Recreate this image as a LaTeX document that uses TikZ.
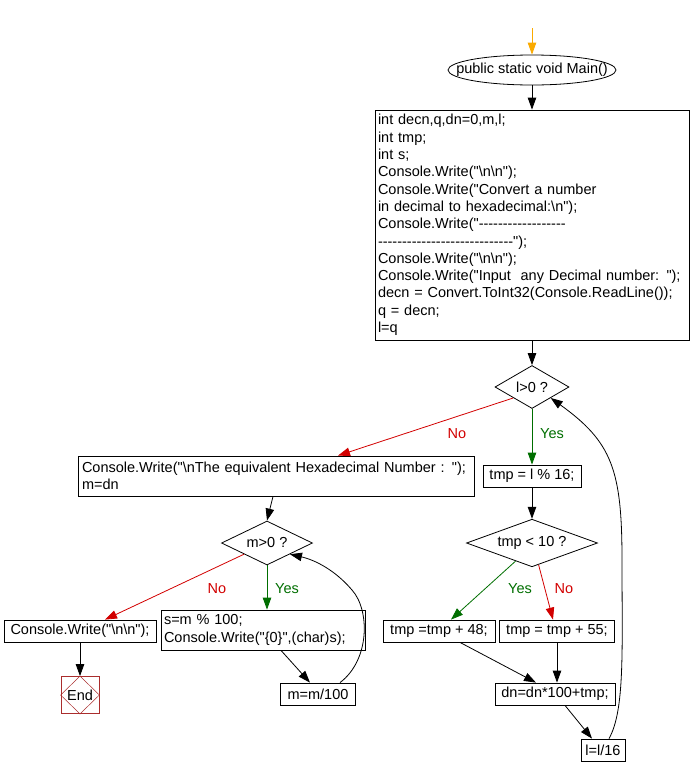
\documentclass[tikz,border=0pt]{standalone}
\usepackage{fontspec}
\setmainfont{Liberation Sans}[Ligatures=TeXOff]
\usepackage{tikz}
\usetikzlibrary{arrows.meta}
\usetikzlibrary{shapes.geometric}
\usetikzlibrary{positioning}
\usetikzlibrary{calc}

\definecolor{yesgreen}{RGB}{0,110,0}
\definecolor{nored}{RGB}{210,0,0}
\definecolor{startorange}{RGB}{250,170,0}
\definecolor{endred}{RGB}{170,45,45}

\begin{document}
\begin{tikzpicture}[x=1pt, y=-1pt, line width=0.8pt,
    every node/.style={font=\fontsize{14.5}{17.3}\selectfont},
    box/.style={draw, inner sep=3pt, minimum height=22pt},
    textbox/.style={draw, inner sep=3pt, align=left},
    decision/.style={draw, diamond, aspect=2, inner sep=0pt},
    arrow/.style={-{Triangle[length=12pt,width=8.5pt]}},
    yesline/.style={arrow, yesgreen},
    noline/.style={arrow, nored},
    yeslabel/.style={text=yesgreen},
    nolabel/.style={text=nored}]
      \useasboundingbox (0, 0) rectangle (692, 777);

      % start
      \coordinate (start) at (532, 28);
      \node [minimum height=30pt, inner sep=0pt] (main) at (532, 70) {public static void Main()};
      \draw (main.center) ellipse [x radius=84, y radius=15];

      \node [textbox, text width=308pt, minimum height=230pt] (init) at (532, 225)
        {int decn,q,dn=0,m,l;\\
         int tmp;\\
         int s;\\
         Console.Write("\textbackslash n\textbackslash n");\\
         Console.Write("Convert a number\\
         in decimal to hexadecimal:\textbackslash n");\\
         Console.Write("------------------\\
         ----------------------------");\\
         Console.Write("\textbackslash n\textbackslash n");\\
         Console.Write("Input\ \ any Decimal number: ");\\
         decn = Convert.ToInt32(Console.ReadLine());\\
         q = decn;\\
         l=q};

      % outer loop
      \node [decision, minimum width=74pt, minimum height=43pt] (lcheck) at (532, 387) {l>0 ?};
      \node [box, minimum width=98pt] (tmpmod) at (532, 476) {tmp = l \% 16;};
      \node [decision, minimum width=131pt, minimum height=44pt] (tcheck) at (532, 543) {tmp < 10 ?};
      \node [box, minimum width=112pt] (add48) at (439, 631) {tmp =tmp + 48;};
      \node [box, minimum width=115pt] (add55) at (557, 631) {tmp = tmp + 55;};
      \node [box, minimum width=120pt] (dn) at (555, 694) {dn=dn*100+tmp;};
      \node [box, minimum width=44pt] (ldiv) at (603, 750) {l=l/16};

      % output part
      \node [textbox, text width=388pt, minimum height=40pt, inner xsep=4pt, inner ysep=2pt] (result) at (276, 476)
        {Console.Write("\textbackslash nThe equivalent Hexadecimal Number : ");\\
         m=dn};
      \node [decision, minimum width=91pt, minimum height=44pt] (mcheck) at (267, 543) {m>0 ?};
      \node [textbox, text width=198pt, minimum height=40pt, inner ysep=2pt] (smod) at (263, 630)
        {s=m \% 100;\\
         Console.Write("\{0\}",(char)s);};
      \node [box, minimum width=75pt] (mdiv) at (318, 694) {m=m/100};
      \node [box, minimum width=152pt] (writenl) at (80, 631) {Console.Write("\textbackslash n\textbackslash n");};
      \node [draw=endred, minimum width=38pt, minimum height=37pt, inner sep=0pt] (end) at (80, 695) {End};
      \draw [endred, line width=0.5pt] (end.north) -- (end.west) -- (end.south) -- (end.east) -- cycle;

      % labels
      \node [yeslabel] (yes1) at (552, 434) {Yes};
      \node [nolabel] (no1) at (457, 434) {No};
      \node [yeslabel] (yes2) at (520, 589) {Yes};
      \node [nolabel] (no2) at (564, 589) {No};
      \node [yeslabel] (yes3) at (287, 589) {Yes};
      \node [nolabel] (no3) at (217, 589) {No};

      % connectors
      \draw [arrow, startorange] (start) -- (main.north);
      \draw [arrow] (main.south) -- (init.north);
      \draw [arrow] (init.south) -- (lcheck.north);
      \draw [yesline] (lcheck.south) -- (tmpmod.north);
      \draw [noline] (lcheck.south west) -- ([xshift=62pt]result.north);
      \draw [arrow] (tmpmod.south) -- (tcheck.north);
      \draw [yesline] ($(tcheck.west)!0.75!(tcheck.south)$) -- ([xshift=12pt]add48.north);
      \draw [noline] ($(tcheck.south)!0.1!(tcheck.east)$) -- ([xshift=-4pt]add55.north);
      \draw [arrow] ([xshift=21pt]add48.south) -- ([xshift=-19pt]dn.north);
      \draw [arrow] (add55.south) -- (add55.south |- dn.north);
      \draw [arrow] ([xshift=10pt]dn.south) -- ([xshift=-11pt]ldiv.north);
      \draw [arrow] ([xshift=6pt]ldiv.north) .. controls (625, 710) and (622, 650) .. (622, 560)
        .. controls (622, 470) and (612, 442) .. (lcheck.south east);

      \draw [arrow] ([xshift=-3pt]result.south) -- (mcheck.north);
      \draw [noline] (mcheck.south west) -- ([xshift=25pt]writenl.north);
      \draw [yesline] (mcheck.south) -- (mcheck.south |- smod.north);
      \draw [arrow] ([xshift=18pt]smod.south) -- ([xshift=-8pt]mdiv.north);
      \draw [arrow] ([xshift=22pt]mdiv.north) .. controls (370, 660) and (370, 610) .. (352, 590)
        .. controls (335, 570) and (315, 560) .. (mcheck.south east);
      \draw [arrow] (writenl.south) -- (end.north);
\end{tikzpicture}
\end{document}
